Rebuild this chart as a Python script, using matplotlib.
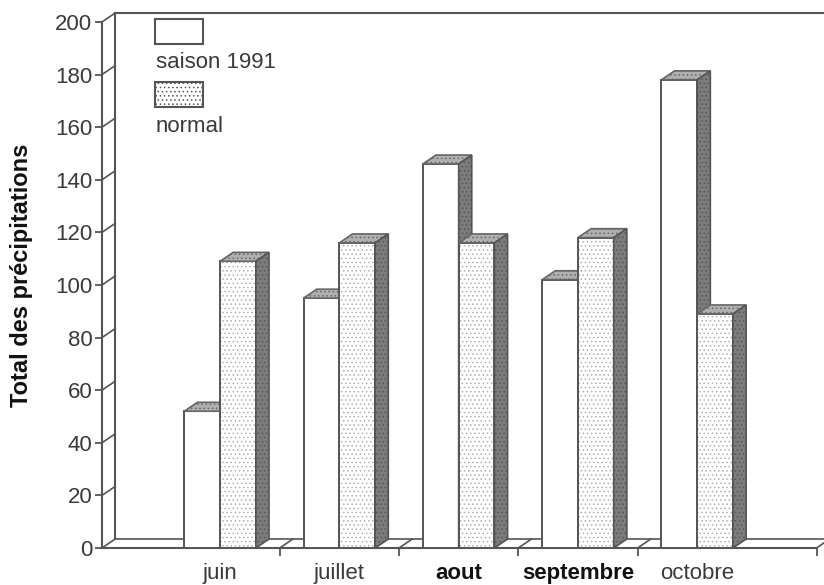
import matplotlib.pyplot as plt
from matplotlib.patches import Polygon, Rectangle

plt.rcParams['font.family'] = ['Liberation Sans', 'DejaVu Sans']
plt.rcParams['hatch.linewidth'] = 0.6

# Données
mois = ['juin', 'juillet', 'aout', 'septembre', 'octobre']
saison_1991 = [52, 95, 146, 102, 178]
normale = [109, 116, 116, 118, 89]
y_ticks = [0, 20, 40, 60, 80, 100, 120, 140, 160, 180, 200]
sep_ticks = [0.5, 1.5, 2.5, 3.5, 5.0]
gras = [False, False, True, True, False]

largeur = 0.30
dx, dy = 0.11, 3.4          # décalage "3D" (profondeur)
x0, x1 = -0.99, 5.0
trait = '#555555'

fig = plt.figure(figsize=(8.24, 5.85), dpi=100)
ax = fig.add_axes([102 / 824, 37 / 585, (824 - 102) / 824, (548 - 13) / 585])
ax.set_xlim(x0, (824 - 220) / 119.3)
ax.set_ylim(0, 203.4)

for s in ['top', 'right']:
    ax.spines[s].set_visible(False)
ax.spines['left'].set_bounds(0, 200)
ax.spines['bottom'].set_bounds(x0, x1)
for s in ['left', 'bottom']:
    ax.spines[s].set_color(trait)
    ax.spines[s].set_linewidth(1.5)

ax.set_yticks(y_ticks)
ax.tick_params(axis='y', length=5, width=1.3, color=trait, pad=2,
               labelsize=16, labelcolor='#3a3a3a')
ax.set_xticks(range(len(mois)))
ax.set_xticklabels(mois)
ax.tick_params(axis='x', which='major', length=0, pad=11, labelsize=16)
ax.set_xticks(sep_ticks, minor=True)
ax.tick_params(axis='x', which='minor', length=6, width=1.3, color=trait)
for lab, g in zip(ax.get_xticklabels(), gras):
    lab.set_fontweight('bold' if g else 'normal')
    lab.set_color('#111111' if g else '#3a3a3a')

# mur arrière et plancher
ax.plot([x0 + dx, x0 + dx], [dy, 200 + dy], color=trait, lw=1.5, clip_on=False)
ax.plot([x0 + dx, 5.2], [200 + dy, 200 + dy], color=trait, lw=1.5, clip_on=False)
ax.plot([x0 + dx, 5.2], [dy, dy], color=trait, lw=1.2, clip_on=False)
for v in y_ticks:
    ax.plot([x0, x0 + dx], [v, v + dy], color=trait, lw=1.2, clip_on=False)
for t in sep_ticks:
    ax.plot([t, t + dx], [0, dy], color=trait, lw=1.2, clip_on=False)


def barre(x, v, motif):
    face = Rectangle((x, 0), largeur, v, facecolor='white', edgecolor='#b0b0b0',
                     hatch=motif, lw=0, zorder=3)
    ax.add_patch(face)
    ax.add_patch(Rectangle((x, 0), largeur, v, fill=False, edgecolor=trait,
                           lw=1.4, zorder=3))
    dessus = [(x, v), (x + dx, v + dy), (x + largeur + dx, v + dy), (x + largeur, v)]
    ax.add_patch(Polygon(dessus, facecolor='#b0b0b0', edgecolor='#666666',
                         hatch='....', lw=1.2, zorder=3))
    cote = [(x + largeur, 0), (x + largeur + dx, dy), (x + largeur + dx, v + dy),
            (x + largeur, v)]
    ax.add_patch(Polygon(cote, facecolor='#7c7c7c', edgecolor='#555555',
                         hatch='....', lw=1.2, zorder=3))


for i in range(len(mois)):
    barre(i - largeur, saison_1991[i], None)
    barre(i, normale[i], '....')

# légende
W, H = 824, 585
fig.patches.append(Rectangle((155 / W, 1 - 44 / H), 48 / W, 25 / H, transform=fig.transFigure,
                             facecolor='white', edgecolor=trait, lw=1.5))
fig.patches.append(Rectangle((155 / W, 1 - 107 / H), 48 / W, 25 / H, transform=fig.transFigure,
                             facecolor='white', edgecolor=trait, lw=1.5, hatch='....'))
fig.text(156 / W, 1 - 63 / H, 'saison 1991', fontsize=16, color='#3a3a3a', va='center')
fig.text(156 / W, 1 - 127 / H, 'normal', fontsize=16, color='#3a3a3a', va='center')

fig.text(22 / W, 1 - 275 / H, 'Total des précipitations', rotation=90, fontsize=17,
         fontweight='bold', color='#111111', ha='center', va='center')

fig.savefig('out.png', dpi=100)
